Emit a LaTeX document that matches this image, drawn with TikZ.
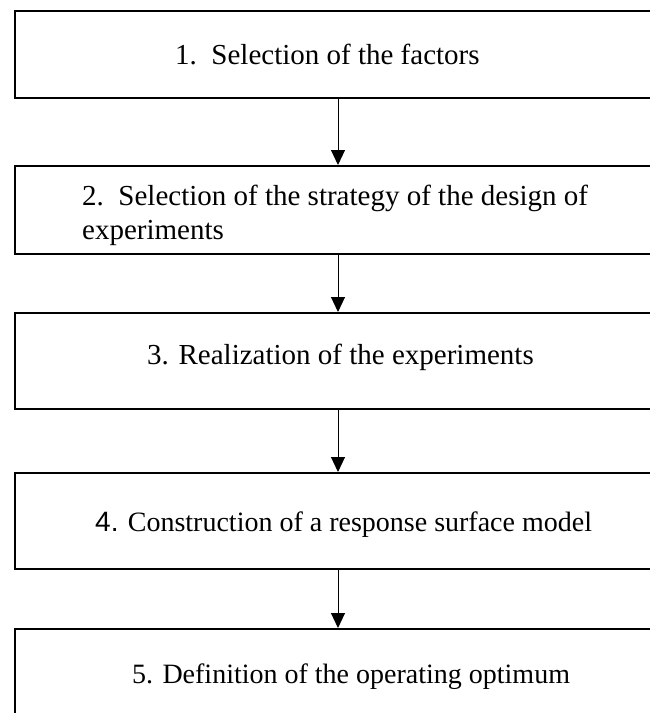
\documentclass[tikz,border=0pt]{standalone}
\usepackage{fontspec}
\setmainfont{Liberation Serif}
\setsansfont{Liberation Sans}
\usetikzlibrary{arrows.meta}
\tikzset{
  stepbox/.style={draw=black, line width=2pt, fill=white, inner sep=0pt},
  lbl/.style={anchor=base west, inner sep=0pt, font=\fontsize{29}{36}\selectfont},
  flow/.style={draw=black, line width=1pt, -{Triangle[width=14pt,length=15pt]}}
}
\begin{document}
\begin{tikzpicture}[x=1pt,y=-1pt]
\useasboundingbox (0,0) rectangle (649,713);
% boxes
\node[stepbox, minimum width=645pt, minimum height=87pt] (b1) at (337.5,54.5) {};
\node[stepbox, minimum width=645pt, minimum height=88pt] (b2) at (337.5,210) {};
\node[stepbox, minimum width=645pt, minimum height=96pt] (b3) at (337.5,361) {};
\node[stepbox, minimum width=645pt, minimum height=96pt] (b4) at (337.5,521) {};
\node[stepbox, minimum width=645pt, minimum height=100pt] (b5) at (337.5,679) {};
% texts
\node[lbl] (t1) at (175,64) {1.\ \ Selection of the factors};
\node[lbl] (t2a) at (82,205) {2.\ \ Selection of the strategy of the design of};
\node[lbl] (t2b) at (82,239) {experiments};
\node[lbl] (t3) at (147,364) {3. Realization of the experiments};
\node[lbl, font=\fontsize{28}{34}\selectfont] (t4) at (95,531) {{\sffamily 4.} Construction of a response surface model};
\node[lbl, font=\fontsize{28}{34}\selectfont] (t5) at (132,683) {5. Definition of the operating optimum};
% connectors
\coordinate (a1) at (338,98);
\coordinate (a2) at (338,254);
\coordinate (a3) at (338,409);
\coordinate (a4) at (338,569);
\draw[flow] (a1) -- (a1 |- b2.north);
\draw[flow] (a2) -- (a2 |- b3.north);
\draw[flow] (a3) -- (a3 |- b4.north);
\draw[flow] (a4) -- (a4 |- b5.north);
\end{tikzpicture}
\end{document}
